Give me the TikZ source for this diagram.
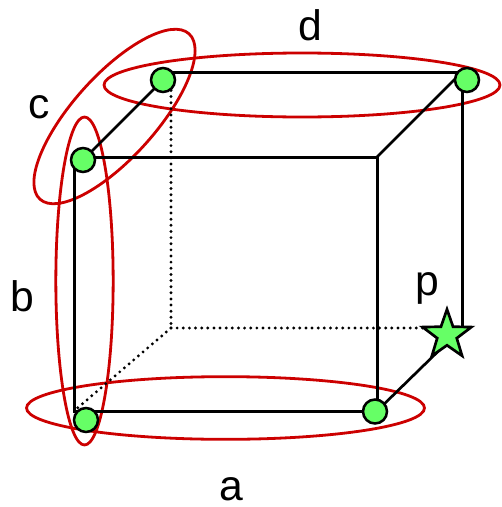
\documentclass[tikz,border=0pt]{standalone}
\usepackage{fontspec}
\setmainfont{Liberation Sans}
\usetikzlibrary{shapes.geometric}
\definecolor{ringred}{HTML}{CC0000}
\definecolor{dotgreen}{HTML}{66FF66}
\tikzset{
  edgeline/.style={line width=2.25pt,black},
  slantline/.style={line width=2pt,black},
  hiddenline/.style={line width=2.4pt,black,line cap=round,dash pattern=on 0pt off 4.6pt},
  ring/.style={ellipse,draw=ringred,line width=2.1pt,inner sep=0pt,outer sep=0pt},
  vertexdot/.style={circle,draw=black,fill=dotgreen,line width=1.9pt,minimum size=18pt,inner sep=0pt,outer sep=0pt},
  pointstar/.style={star,star points=5,star point ratio=2.5,draw=black,fill=dotgreen,line width=2pt,minimum size=38.5pt,inner sep=0pt,outer sep=0pt},
  lbl/.style={font=\fontsize{32}{32}\selectfont,inner sep=0pt,text=black,anchor=base}
}
\begin{document}
\begin{tikzpicture}[x=0.75pt,y=-0.75pt]
\useasboundingbox (0,0) rectangle (501,507);
% rings
\node[ring,minimum width=298.5pt,minimum height=47pt] (ra) at (225.5,408) {};
\node[ring,minimum width=43pt,minimum height=246pt] (rb) at (84.5,281) {};
\node[ring,minimum width=297pt,minimum height=48pt] (rd) at (302,85) {};
\node[ring,minimum width=167pt,minimum height=62pt,rotate=48] (rc) at (114.5,116.5) {};
% cube corners
\coordinate (ftl) at (74,157);
\coordinate (ftr) at (377,157);
\coordinate (fbl) at (74,411);
\coordinate (fbr) at (377,411);
\coordinate (btl) at (171,72);
\coordinate (btr) at (462,72);
\coordinate (bbl) at (171,328);
\coordinate (bbr) at (462,328);
% hidden edges
\draw[hiddenline] (btl) -- (bbl);
\draw[hiddenline] (bbl) -- (440,328);
\draw[hiddenline] (bbl) -- (fbl);
% visible edges
\draw[edgeline,line join=miter] (ftr) -- (ftl) -- (fbl) -- (fbr) -- (ftr);
\draw[edgeline] (btl) -- (btr) -- (bbr);
\draw[slantline] (ftr) -- (btr);
\draw[slantline] (fbr) -- (bbr);
% vertices
\node[vertexdot] (v1) at (163,80) {};
\node[vertexdot] (v2) at (83,160) {};
\node[vertexdot] (v3) at (86,420) {};
\node[vertexdot] (v4) at (375,411.5) {};
\node[vertexdot] (v5) at (467,80) {};
\draw[slantline] (v1) -- (v2);
\node[pointstar] (p) at (447,335) {};
% labels
\node[lbl] (la) at (231,500) {a};
\node[lbl] (lb) at (22,311) {b};
\node[lbl] (lc) at (39,118) {c};
\node[lbl] (ld) at (310,40) {d};
\node[lbl] (lp) at (427,295) {p};
\end{tikzpicture}
\end{document}
